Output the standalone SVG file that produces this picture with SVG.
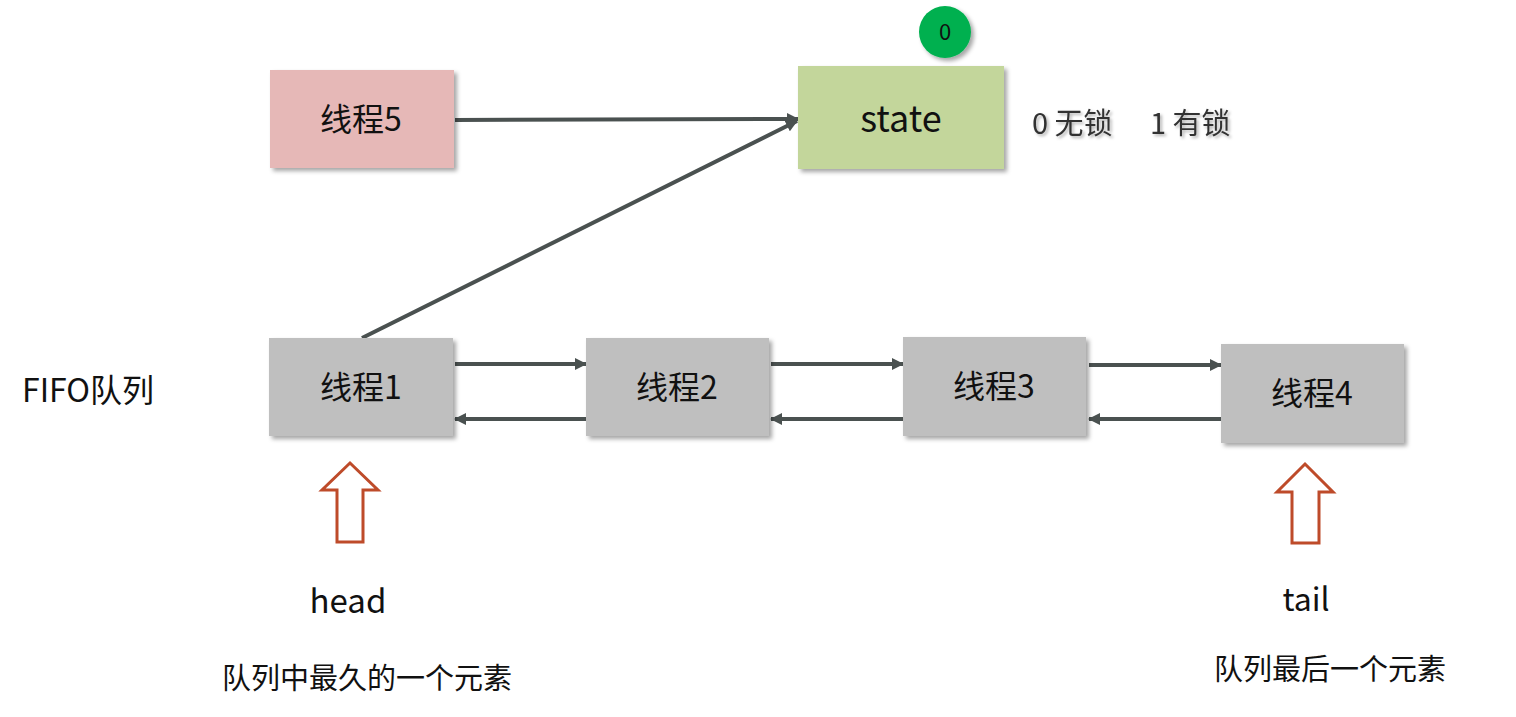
<svg xmlns="http://www.w3.org/2000/svg" width="1516" height="717" viewBox="0 0 1516 717">
<defs>
<filter id="sh" x="-10%" y="-10%" width="125%" height="130%">
<feDropShadow dx="3" dy="3" stdDeviation="2" flood-color="#000" flood-opacity="0.35"/>
</filter>
<filter id="tsh" x="-10%" y="-20%" width="125%" height="150%">
<feDropShadow dx="2" dy="2" stdDeviation="1.5" flood-color="#000" flood-opacity="0.3"/>
</filter>
<marker id="ah" markerWidth="12" markerHeight="12" refX="11" refY="6" orient="auto" markerUnits="userSpaceOnUse">
<path d="M0,0 L12,6 L0,12 Z" fill="#4a5150"/>
</marker>
<style>
.t{font-family:"Noto Sans CJK SC","Liberation Sans",sans-serif;fill:#111;text-anchor:middle}
.box{filter:url(#sh)}
.c{stroke:#4a5150;stroke-width:4;fill:none;marker-end:url(#ah)}
.up{fill:#fff;stroke:#be4b2a;stroke-width:3}
</style>
</defs>
<rect width="1516" height="717" fill="#fff"/>
<g id="connectors">
<line class="c" x1="455" y1="120" x2="798" y2="119"/>
<line class="c" x1="362" y1="338" x2="797" y2="121"/>
<line class="c" x1="455" y1="364" x2="586" y2="364"/>
<line class="c" x1="586" y1="419" x2="455" y2="419"/>
<line class="c" x1="771" y1="364" x2="903" y2="364"/>
<line class="c" x1="903" y1="419" x2="771" y2="419"/>
<line class="c" x1="1089" y1="365" x2="1221" y2="365"/>
<line class="c" x1="1221" y1="419" x2="1089" y2="419"/>
</g>
<g id="t5"><rect class="box" x="270" y="70" width="184" height="98" fill="#e6b8b7"/><text class="t" x="361" y="131" font-size="32">线程5</text></g>
<g id="state"><rect class="box" x="798" y="66" width="206" height="103" fill="#c3d69b"/><text class="t" x="901" y="132" font-size="36">state</text></g>
<g id="badge"><circle cx="945" cy="32" r="26" fill="#00b050" filter="url(#sh)"/><text class="t" x="945" y="40" font-size="22">0</text></g>
<g id="legend" font-family="'Noto Sans CJK SC','Liberation Sans',sans-serif" font-size="29" fill="#333" filter="url(#tsh)"><text x="1032" y="134">0 无锁</text><text x="1150" y="134">1 有锁</text></g>
<g id="t1"><rect class="box" x="269" y="338" width="184" height="98" fill="#bfbfbf"/><text class="t" x="361" y="399" font-size="32">线程1</text></g>
<g id="t2"><rect class="box" x="586" y="338" width="183" height="98" fill="#bfbfbf"/><text class="t" x="677" y="399" font-size="32">线程2</text></g>
<g id="t3"><rect class="box" x="903" y="337" width="183" height="99" fill="#bfbfbf"/><text class="t" x="994" y="398" font-size="32">线程3</text></g>
<g id="t4"><rect class="box" x="1221" y="344" width="183" height="99" fill="#bfbfbf"/><text class="t" x="1312" y="405" font-size="32">线程4</text></g>
<g id="fifo"><text x="22" y="402" font-size="32" fill="#111" font-family="'Noto Sans CJK SC','Liberation Sans',sans-serif">FIFO队列</text></g>
<g id="head"><polygon class="up" points="350,463 378,490 363,490 363,542 337,542 337,490 322,490"/><text class="t" x="348" y="613" font-size="33" fill="#222">head</text><text class="t" x="367" y="689" font-size="29" fill="#222">队列中最久的一个元素</text></g>
<g id="tail"><polygon class="up" points="1305,464 1333,492 1319,492 1319,543 1292,543 1292,492 1277,492"/><text class="t" x="1306" y="611" font-size="32" fill="#222">tail</text><text class="t" x="1330" y="680" font-size="29" fill="#222">队列最后一个元素</text></g>
</svg>
